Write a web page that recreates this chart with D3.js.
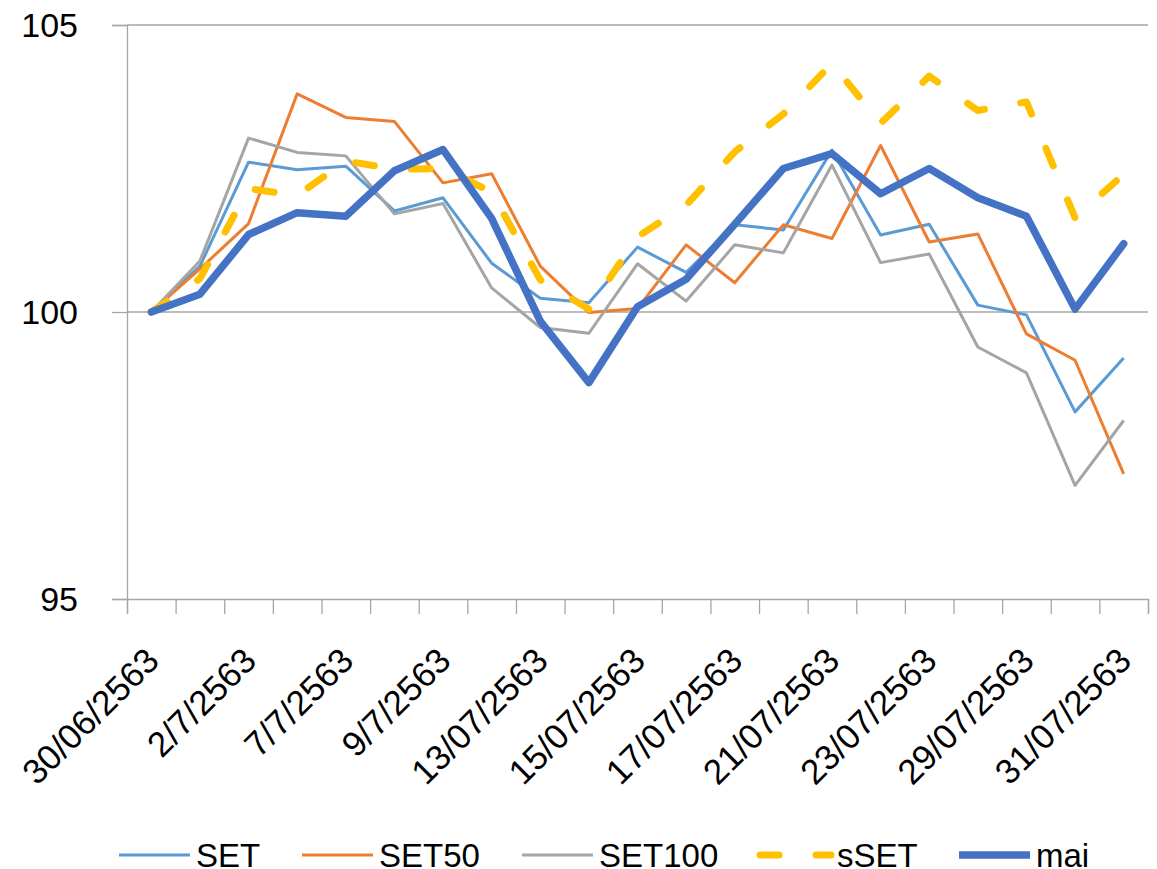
<!DOCTYPE html>
<html>
<head>
<meta charset="utf-8">
<script src="https://cdn.jsdelivr.net/npm/d3@7"></script>
<style>
  body { margin: 0; background: #fff; }
  text { font-family: "Liberation Sans", Arial, sans-serif; fill: #000; }
</style>
</head>
<body>
<div id="chart"></div>
<script>
  // categories (trading days, Thai year)
  var dates = ["30/06/2563", "1/7/2563", "2/7/2563", "3/7/2563", "7/7/2563", "8/7/2563", "9/7/2563",
    "10/7/2563", "13/07/2563", "14/07/2563", "15/07/2563", "16/07/2563", "17/07/2563", "20/07/2563",
    "21/07/2563", "22/07/2563", "23/07/2563", "24/07/2563", "29/07/2563", "30/07/2563", "31/07/2563"]

  // index values, 30/06/2563 = 100
  var setValues = [100, 100.80, 102.61, 102.48, 102.54, 101.76, 101.99, 100.85, 100.24, 100.16, 101.13,
    100.69, 101.52, 101.43, 102.82, 101.34, 101.53, 100.12, 99.95, 98.26, 99.20]
  var set50Values = [100, 100.75, 101.54, 103.80, 103.39, 103.32, 102.25, 102.41, 100.80, 99.99, 100.06,
    101.17, 100.51, 101.52, 101.28, 102.90, 101.22, 101.36, 99.62, 99.16, 97.18]
  var set100Values = [100, 100.89, 103.03, 102.78, 102.72, 101.71, 101.89, 100.42, 99.73, 99.63, 100.84,
    100.19, 101.17, 101.03, 102.56, 100.86, 101.01, 99.39, 98.94, 96.98, 98.11]
  var ssetValues = [100, 100.58, 102.15, 102.03, 102.63, 102.49, 102.50, 102.09, 100.56, 100.05, 101.31,
    101.86, 102.79, 103.45, 104.33, 103.29, 104.11, 103.51, 103.66, 101.64, 102.40]
  var maiValues = [100, 100.31, 101.35, 101.73, 101.67, 102.46, 102.83, 101.63, 99.84, 98.77, 100.09,
    100.57, 101.53, 102.50, 102.76, 102.06, 102.50, 101.99, 101.67, 100.05, 101.19]

  var yTicks = [95, 100, 105]

  var seriesNames = ["SET", "SET50", "SET100", "sSET", "mai"]
  var series = [setValues, set50Values, set100Values, ssetValues, maiValues]

  // Size
  var width = 1157
  var height = 869
  var plotLeft = 127, plotRight = 1148, plotTop = 25, plotBottom = 599

  var styles = {
    "SET": { color: "#5B9BD5", width: 3 },
    "SET50": { color: "#ED7D31", width: 3 },
    "SET100": { color: "#A5A5A5", width: 3 },
    "sSET": { color: "#FFC000", width: 7, dash: "19,37" },
    "mai": { color: "#4472C4", width: 7.5 }
  }

  var svg = d3.select("#chart")
    .append("svg")
    .attr("width", width)
    .attr("height", height)

  var x = d3.scaleBand()
    .domain(dates)
    .range([plotLeft, plotRight])
    .padding(0)

  var xEdge = d3.scaleLinear()
    .domain([0, dates.length])
    .range([plotLeft, plotRight])

  var y = d3.scaleLinear()
    .domain([95, 105])
    .range([plotBottom, plotTop])

  var cx = function (d) { return x(d) + x.bandwidth() / 2 }

  // gridlines
  svg.append("g")
    .selectAll("line")
    .data(yTicks.filter(function (d) { return d > 95 }))
    .enter()
    .append("line")
    .attr("x1", plotLeft)
    .attr("x2", plotRight)
    .attr("y1", function (d) { return y(d) })
    .attr("y2", function (d) { return y(d) })
    .attr("stroke", "#A6A6A6")
    .attr("stroke-width", 1.3)

  // y axis
  var yAxis = svg.append("g")
    .attr("transform", "translate(" + plotLeft + ",0)")
    .call(d3.axisLeft(y).tickValues(yTicks).tickSize(15).tickPadding(34))
  yAxis.select(".domain").attr("stroke", "#A6A6A6").attr("stroke-width", 1.3)
  yAxis.selectAll(".tick line").attr("stroke", "#A6A6A6").attr("stroke-width", 1.3)
  yAxis.selectAll("text")
    .style("font-size", "34px")
    .attr("dy", "0.33em")
    .style("font-family", "'Liberation Sans', Arial, sans-serif")

  // x axis: boundary ticks
  var xTickAxis = svg.append("g")
    .attr("transform", "translate(0," + plotBottom + ")")
    .call(d3.axisBottom(xEdge).tickValues(d3.range(dates.length + 1)).tickSize(15).tickFormat(""))
  xTickAxis.select(".domain").attr("stroke", "#A6A6A6").attr("stroke-width", 1.3)
  xTickAxis.selectAll(".tick line").attr("stroke", "#A6A6A6").attr("stroke-width", 1.3)

  // x axis: labels, every other day
  var xLabelAxis = svg.append("g")
    .attr("transform", "translate(0," + plotBottom + ")")
    .call(d3.axisBottom(x).tickValues(dates.filter(function (d, i) { return i % 2 === 0 })).tickSize(0))
  xLabelAxis.select(".domain").remove()
  xLabelAxis.selectAll("text")
    .attr("x", 0)
    .attr("y", 0)
    .attr("dy", "0.35em")
    .attr("text-anchor", "end")
    .attr("transform", "translate(1,55) rotate(-45)")
    .style("font-size", "35px")
    .style("font-family", "'Liberation Sans', Arial, sans-serif")

  // lines
  var line = d3.line()
    .x(function (d, i) { return cx(dates[i]) })
    .y(function (d) { return y(d) })

  svg.append("g")
    .selectAll("path")
    .data(seriesNames)
    .enter()
    .append("path")
    .attr("d", function (name, k) { return line(series[k]) })
    .attr("fill", "none")
    .attr("stroke", function (name) { return styles[name].color })
    .attr("stroke-width", function (name) { return styles[name].width })
    .attr("stroke-dasharray", function (name) { return styles[name].dash || null })
    .attr("stroke-linejoin", "round")
    .attr("stroke-linecap", function (name) { return name === "sSET" || name === "mai" ? "round" : "butt" })

  // legend
  var legendX = [119, 302, 522, 760, 959]
  var legend = svg.append("g")
    .selectAll("g")
    .data(seriesNames)
    .enter()
    .append("g")
    .attr("transform", function (d, i) { return "translate(" + legendX[i] + ",855)" })

  legend.append("line")
    .attr("x1", 0)
    .attr("x2", 71)
    .attr("stroke", function (name) { return styles[name].color })
    .attr("stroke-width", function (name) { return styles[name].width })
    .attr("stroke-dasharray", function (name) { return styles[name].dash || null })
    .attr("stroke-linecap", function (name) { return name === "sSET" ? "round" : "butt" })

  legend.append("text")
    .attr("x", 77)
    .attr("dy", "0.35em")
    .style("font-size", "33px")
    .text(function (d) { return d })
</script>
</body>
</html>
